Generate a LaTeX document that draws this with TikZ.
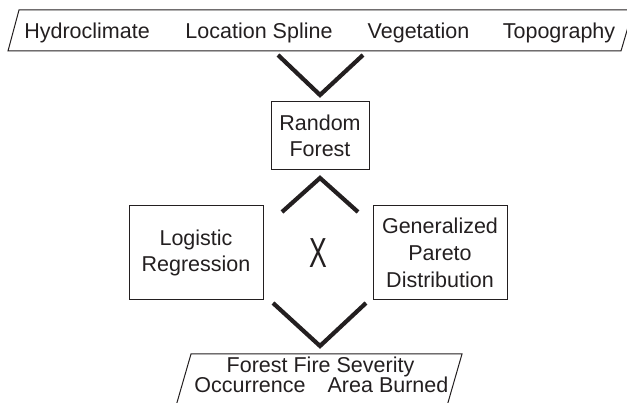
\documentclass[tikz,border=0pt]{standalone}
\usepackage{fontspec}
\setmainfont{Liberation Sans}
\definecolor{ink}{HTML}{231F20}
\begin{document}
\begin{tikzpicture}[x=1pt,y=-1pt,
  txt/.style={font=\fontsize{21.5}{26}\selectfont, text=ink, inner sep=0pt},
  box/.style={draw=ink, line width=1pt, txt, align=center, inner sep=0pt},
  frame/.style={draw=ink, line width=1pt},
  chev/.style={draw=ink, line width=4.2pt, line join=miter}]
\useasboundingbox (0,0) rectangle (627,403);
% top input parallelogram
\draw[frame] (19,10) -- (633,10) -- (621,51) -- (8,51) -- cycle;
\node[txt, anchor=base] (hyd) at (87,39) {Hydroclimate};
\node[txt, anchor=base] (loc) at (259,39) {Location Spline};
\node[txt, anchor=base] (veg) at (418.5,39) {Vegetation};
\node[txt, anchor=base] (top) at (559,39) {Topography};
% random forest
\node[box, minimum width=98pt, minimum height=68pt] (rf) at (320,136) {Random\\Forest};
% models
\node[box, minimum width=134pt, minimum height=94pt] (lr) at (196,253) {Logistic\\Regression};
\node[box, minimum width=134pt, minimum height=94pt, font=\fontsize{21.5}{27}\selectfont] (gpd) at (440,253) {Generalized\\Pareto\\Distribution};
\node[text=ink, inner sep=0pt] (x) at (318,253) {\fontsize{14}{14}\selectfont\scalebox{1.9}[3.0]{X}};
% bottom output parallelogram
\draw[frame] (191,354) -- (462,354) -- (447,406) -- (176,406) -- cycle;
\node[txt, anchor=base] (ffs) at (320.5,373) {Forest Fire Severity};
\node[txt, anchor=base] (occ) at (250,393) {Occurrence};
\node[txt, anchor=base] (ab) at (388,393) {Area Burned};
% chevrons
\coordinate (v1l) at (278,55); \coordinate (v1t) at (320,95); \coordinate (v1r) at (363,55);
\coordinate (v2l) at (282,212); \coordinate (v2t) at (320,178); \coordinate (v2r) at (358,212);
\coordinate (v3l) at (273,303); \coordinate (v3t) at (320,346); \coordinate (v3r) at (366,303);
\draw[chev] (v1l) -- (v1t) -- (v1r);
\draw[chev] (v2l) -- (v2t) -- (v2r);
\draw[chev] (v3l) -- (v3t) -- (v3r);
\end{tikzpicture}
\end{document}
